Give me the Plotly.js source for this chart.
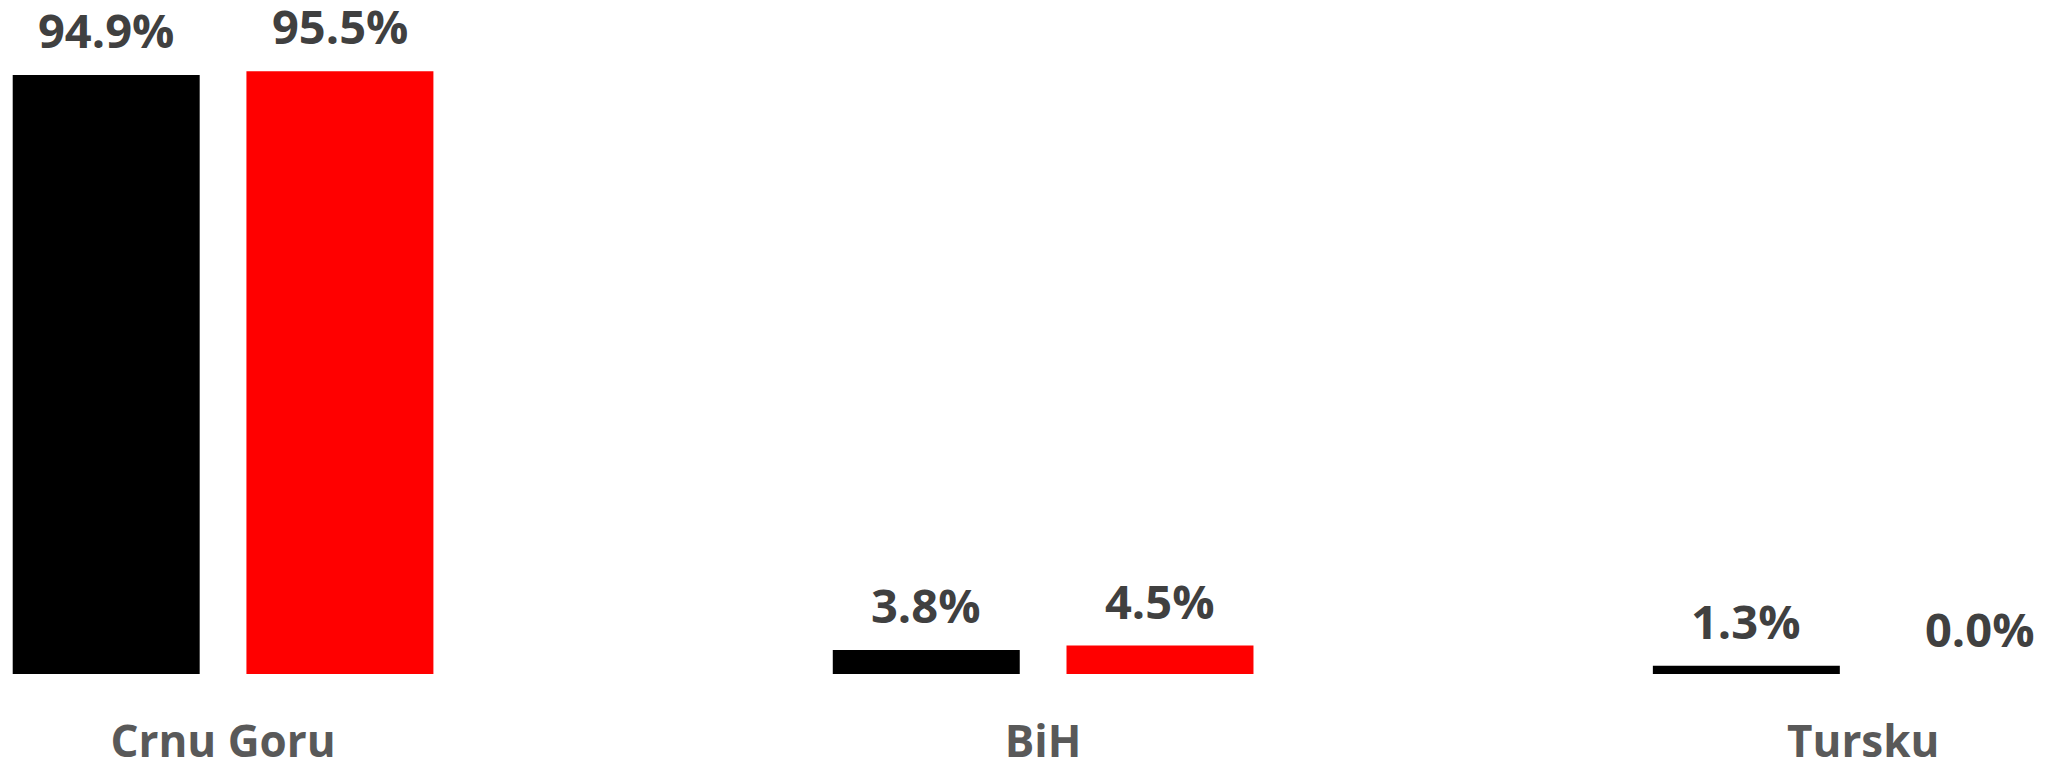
<!DOCTYPE html>
<html>
<head>
<meta charset="utf-8">
<script src="https://cdn.plot.ly/plotly-3.0.1.min.js"></script>
<style>
  html, body { margin: 0; padding: 0; background: #ffffff; }
  #chart { width: 2051px; height: 764px; }
</style>
</head>
<body>
<div id="chart"></div>
<script>
const categories = ["Crnu Goru", "BiH", "Tursku"];
const seriesA = [94.9, 3.8, 1.3];   // black
const seriesB = [95.5, 4.5, 0.0];   // red
const colorA = "#000000";
const colorB = "#FF0000";

const bargap = 0.43;
const bargroupgap = 0.2;
const groupOffset = (1 - bargap) / 4;

const labelFont = { family: "Open Sans, sans-serif", size: 47, color: "#404040", weight: 700 };

const traces = [
  { type: "bar", name: "A", x: categories, y: seriesA, marker: { color: colorA }, hoverinfo: "none" },
  { type: "bar", name: "B", x: categories, y: seriesB, marker: { color: colorB }, hoverinfo: "none" }
];

const annotations = [];
[seriesA, seriesB].forEach((s, k) => {
  s.forEach((v, i) => {
    annotations.push({
      x: i + (k === 0 ? -groupOffset : groupOffset),
      y: v,
      xref: "x", yref: "y",
      text: "<b>" + v.toFixed(1) + "%</b>",
      showarrow: false,
      yanchor: "bottom",
      xanchor: "center",
      yshift: 11,
      font: labelFont
    });
  });
});

const layout = {
  width: 2051,
  height: 764,
  margin: { l: 0, r: 0, t: 0, b: 90, pad: 0 },
  paper_bgcolor: "#ffffff",
  plot_bgcolor: "#ffffff",
  showlegend: false,
  barmode: "group",
  bargap: bargap,
  bargroupgap: bargroupgap,
  xaxis: {
    type: "category",
    range: [-0.272, 2.229],
    showgrid: false,
    zeroline: false,
    showline: false,
    ticks: "",
    ticklabelstandoff: 38,
    tickfont: { family: "Open Sans, sans-serif", size: 44, color: "#595959", weight: 700 },
    fixedrange: true
  },
  yaxis: {
    range: [0, 106.8],
    visible: false,
    showgrid: false,
    zeroline: false,
    fixedrange: true
  },
  annotations: annotations
};

Plotly.newPlot("chart", traces, layout, { displayModeBar: false, staticPlot: true });
</script>
</body>
</html>
